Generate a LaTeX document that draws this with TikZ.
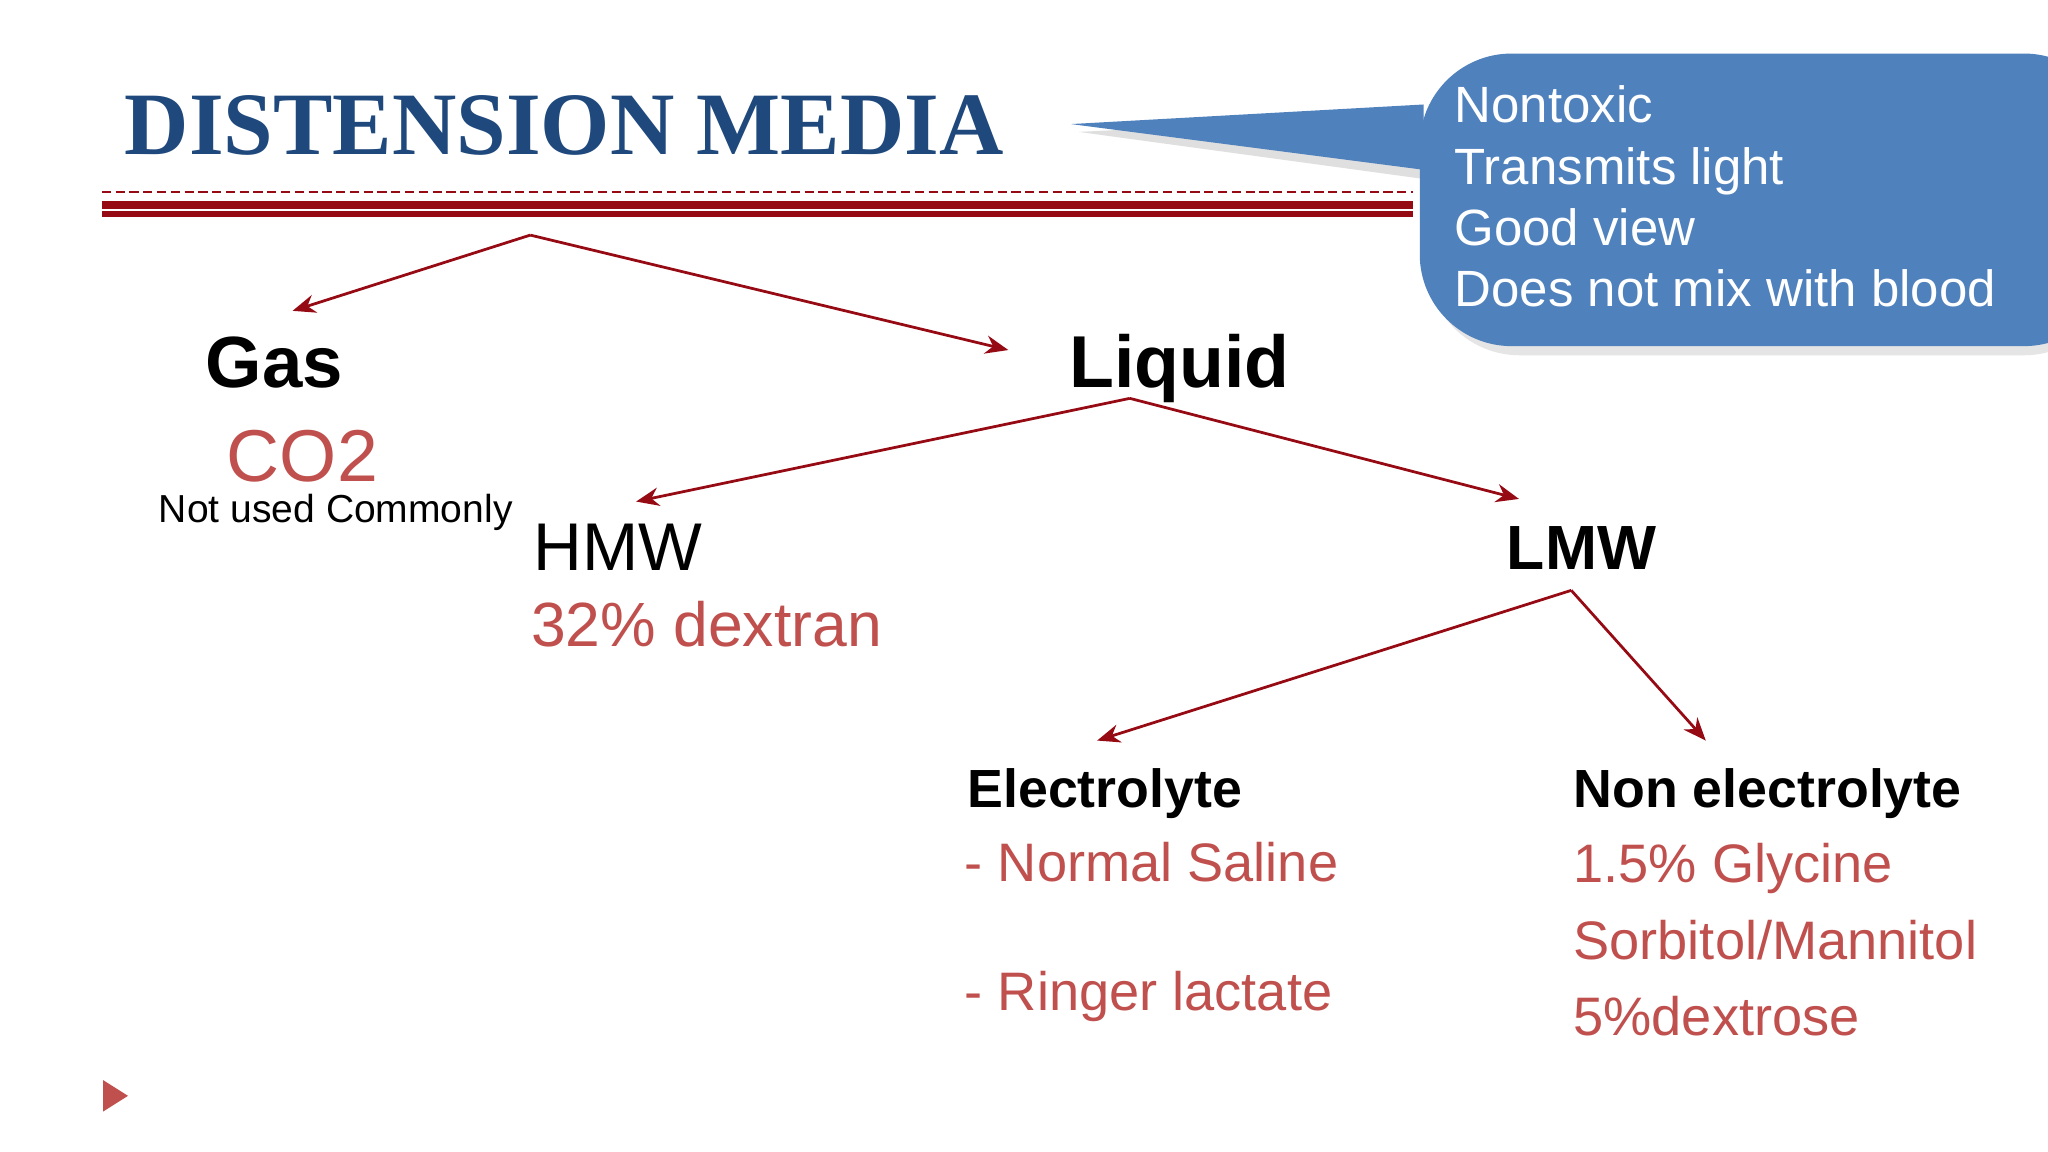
\documentclass[tikz,border=0pt]{standalone}
\usepackage{fontspec}
\setmainfont{Liberation Sans}
\newfontfamily\titlefont{Liberation Serif}
\usetikzlibrary{arrows.meta}
\definecolor{tblue}{RGB}{31,73,125}
\definecolor{tred}{RGB}{192,80,77}
\definecolor{dred}{RGB}{150,10,20}
\definecolor{cblue}{RGB}{79,129,189}
\begin{document}
\begin{tikzpicture}[x=0.01cm,y=-0.01cm,
  lbl/.style={anchor=base west,inner sep=0pt},
  arr/.style={draw=dred,line width=0.6pt,-{Stealth[length=5pt,width=4pt]}},
  hd/.style={lbl,font=\fontsize{15.8}{19}\selectfont\bfseries},
  rd/.style={lbl,text=tred},
  ct/.style={lbl,text=white,font=\fontsize{11.1}{13}\selectfont},
  bt/.style={lbl,font=\fontsize{11.8}{14}\selectfont}]
\useasboundingbox (0,0) rectangle (1568,882);
\fill[white] (0,0) rectangle (1568,882);
% title
\node[lbl,text=tblue,font=\titlefont\bfseries\fontsize{19.4}{24}\selectfont] (title) at (95,118) {DISTENSION MEDIA};
% rules
\draw[dred,line width=0.3pt,dash pattern=on 2pt off 1pt] (78,147) -- (1082,147);
\draw[dred,line width=1.6pt] (78,157) -- (1082,157);
\draw[dred,line width=1.2pt] (78,164) -- (1082,164);
% callout
\fill[gray!25] (826,101) -- (1090,88) -- (1090,137) -- cycle;
\fill[gray!20,rounded corners=20] (1093,50) rectangle (1620,272);
\fill[cblue] (820,95) -- (1090,80) -- (1090,130) -- cycle;
\fill[cblue,rounded corners=20] (1087,41) rectangle (1620,265);
\node[ct] (c1) at (1113,94) {Nontoxic};
\node[ct] (c2) at (1113,141) {Transmits light};
\node[ct] (c3) at (1113,188) {Good view};
\node[ct] (c4) at (1113,235) {Does not mix with blood};
% texts
\node[hd] (gas) at (157,297) {Gas};
\node[hd,font=\fontsize{16}{19}\selectfont\bfseries] (liquid) at (818,297) {Liquid};
\node[rd,font=\fontsize{16}{19}\selectfont] (co2) at (173,369) {CO2};
\node[lbl,font=\fontsize{8.5}{10}\selectfont] (nuc) at (121,400) {Not used Commonly};
\node[lbl,font=\fontsize{14.7}{17}\selectfont] (hmw) at (408,437) {HMW};
\node[rd,font=\fontsize{13.6}{16}\selectfont] (dex) at (406,495) {32\% dextran};
\node[lbl,font=\fontsize{13.6}{16}\selectfont\bfseries] (lmw) at (1153,436) {LMW};
\node[bt,font=\fontsize{11.7}{14}\selectfont\bfseries] (el) at (740,618) {Electrolyte};
\node[bt,font=\fontsize{11.7}{14}\selectfont\bfseries] (nel) at (1204,618) {Non electrolyte};
\node[bt,rd] (ns) at (738,675) {- Normal Saline};
\node[bt,rd] (rl) at (738,774) {- Ringer lactate};
\node[bt,rd] (gly) at (1204,676) {1.5\% Glycine};
\node[bt,rd] (sor) at (1204,735) {Sorbitol/Mannitol};
\node[bt,rd] (d5) at (1204,793) {5\%dextrose};
% connectors
\coordinate (r0) at (406,180);
\coordinate (tg) at (224,238);
\coordinate (tl) at (772,268);
\coordinate (r1) at (865,305);
\coordinate (th) at (487,384);
\coordinate (tm) at (1163,382);
\coordinate (r2) at (1203,452);
\coordinate (te) at (840,567);
\coordinate (tn) at (1306,567);
\draw[arr] (r0) -- (tg);
\draw[arr] (r0) -- (tl);
\draw[arr] (r1) -- (th);
\draw[arr] (r1) -- (tm);
\draw[arr] (r2) -- (te);
\draw[arr] (r2) -- (tn);
% play mark
\fill[tred] (79,827) -- (98,839) -- (79,851) -- cycle;
\end{tikzpicture}
\end{document}
